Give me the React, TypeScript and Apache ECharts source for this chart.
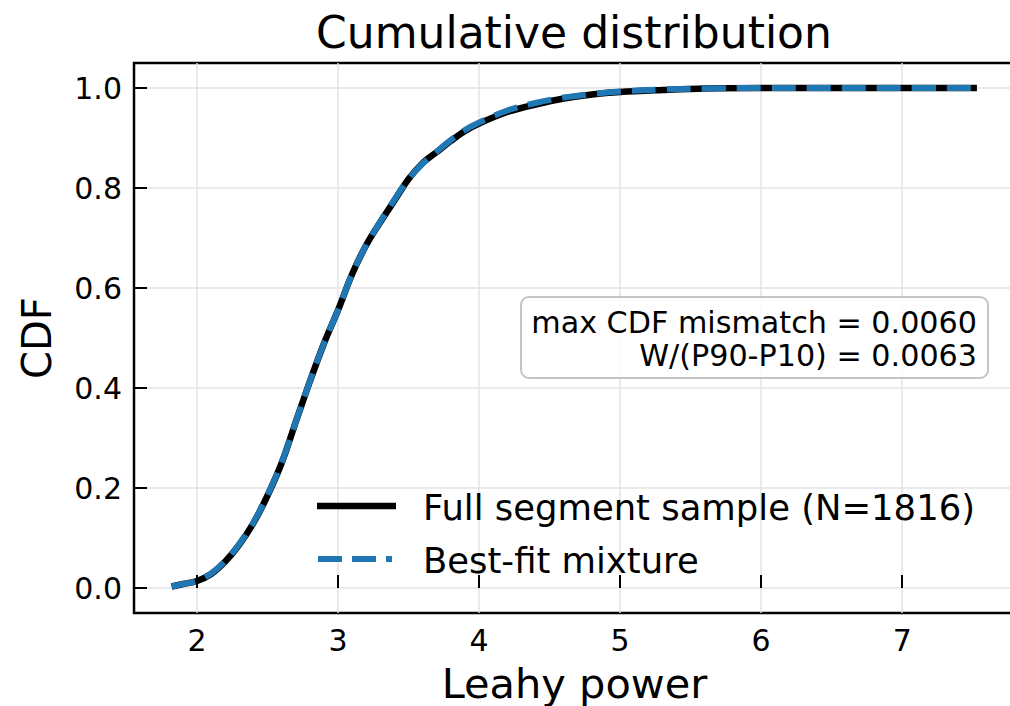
import React, { useEffect, useRef } from "react";
import * as echarts from "echarts";

const xValues = [1.82, 1.9, 2.0, 2.1, 2.2, 2.3, 2.4, 2.5, 2.6, 2.7, 2.8, 2.9, 3.0, 3.1, 3.2, 3.3, 3.4, 3.5, 3.6, 3.7, 3.8, 3.9, 4.0, 4.2, 4.4, 4.6, 4.8, 5.0, 5.3, 5.6, 6.0, 6.5, 7.0, 7.53];
const sampleCdf = [0.003, 0.008, 0.014, 0.028, 0.053, 0.087, 0.13, 0.185, 0.25, 0.332, 0.413, 0.489, 0.556, 0.628, 0.686, 0.732, 0.775, 0.818, 0.85, 0.872, 0.894, 0.914, 0.929, 0.952, 0.967, 0.979, 0.987, 0.992, 0.996, 0.999, 1.0, 1.0, 1.0, 1.0];
const fitCdf = [0.003, 0.008, 0.014, 0.029, 0.054, 0.088, 0.131, 0.186, 0.251, 0.332, 0.413, 0.489, 0.556, 0.628, 0.686, 0.733, 0.777, 0.818, 0.849, 0.873, 0.896, 0.916, 0.931, 0.955, 0.97, 0.981, 0.988, 0.993, 0.997, 0.999, 1.0, 1.0, 1.0, 1.0];
const xTicks = [2, 3, 4, 5, 6, 7];
const yTicks = [0, 0.2, 0.4, 0.6, 0.8, 1.0];
const seriesNames = ["Full segment sample (N=1816)", "Best-fit mixture"];
const statLines = ["max CDF mismatch = 0.0060", "W/(P90-P10) = 0.0063"];

const FONT = "DejaVu Sans";

export default function App() {
  const ref = useRef<HTMLDivElement>(null);
  useEffect(() => {
    if (!ref.current) return;
    const chart = echarts.init(ref.current, undefined, { renderer: "svg" });
    const sample = xValues.map((x, i) => [x, sampleCdf[i]]);
    const fit = xValues.map((x, i) => [x, fitCdf[i]]);
    chart.setOption({
      animation: false,
      backgroundColor: "#ffffff",
      grid: {
        left: 134,
        top: 63,
        right: -5,
        bottom: 93,
        show: true,
        borderColor: "#000",
        borderWidth: 2.5,
        backgroundColor: "transparent",
        containLabel: false,
        outerBoundsMode: "none",
      },
      xAxis: {
        type: "value",
        min: 1.553,
        max: 7.8,
        name: "Leahy power",
        nameLocation: "middle",
        nameGap: 49,
        nameMoveOverlap: false,
        nameTextStyle: { fontFamily: FONT, fontSize: 41.5, color: "#000" },
        axisLine: { show: false },
        axisTick: { show: true, inside: true, length: 13, lineStyle: { color: "#000", width: 2 }, customValues: xTicks },
        axisLabel: { show: true, customValues: xTicks, margin: 12, fontFamily: FONT, fontSize: 30, color: "#000", formatter: (v: number) => String(v) },
        splitLine: { show: true, lineStyle: { color: "#e3e3e3", width: 1.5 } },
      },
      yAxis: {
        type: "value",
        min: -0.05,
        max: 1.05,
        name: "CDF",
        nameLocation: "middle",
        nameGap: 77,
        nameMoveOverlap: false,
        nameTextStyle: { fontFamily: FONT, fontSize: 40, color: "#000" },
        axisLine: { show: false },
        axisTick: { show: true, inside: true, length: 13, lineStyle: { color: "#000", width: 2 }, customValues: yTicks },
        axisLabel: { show: true, customValues: yTicks, margin: 12, fontFamily: FONT, fontSize: 30, color: "#000", formatter: (v: number) => v.toFixed(1) },
        splitLine: { show: true, lineStyle: { color: "#e3e3e3", width: 1.5 } },
      },
      series: [
        {
          name: seriesNames[0],
          type: "line",
          data: sample,
          showSymbol: false,
          symbol: "none",
          smooth: 0.35,
          lineStyle: { color: "#000", width: 6.5 },
          z: 2,
        },
        {
          name: seriesNames[1],
          type: "line",
          data: fit,
          showSymbol: false,
          symbol: "none",
          smooth: 0.35,
          lineStyle: { color: "#1f77b4", width: 6, type: [24, 11] },
          z: 3,
        },
      ],
      graphic: [
        {
          type: "text",
          x: 574,
          y: 32,
          style: { text: "Cumulative distribution", fontFamily: FONT, fontSize: 44, fill: "#000", align: "center", verticalAlign: "middle" },
        },
        {
          type: "rect",
          shape: { x: 521, y: 297, width: 467, height: 81, r: 8 },
          style: { fill: "rgba(255,255,255,0.85)", stroke: "#c4c4c4", lineWidth: 2 },
          z: 10,
        },
        {
          type: "text",
          x: 977,
          y: 322,
          z: 11,
          style: { text: statLines[0], fontFamily: FONT, fontSize: 30.2, fill: "#000", align: "right", verticalAlign: "middle" },
        },
        {
          type: "text",
          x: 977,
          y: 355,
          z: 11,
          style: { text: statLines[1], fontFamily: FONT, fontSize: 30.2, fill: "#000", align: "right", verticalAlign: "middle" },
        },
        {
          type: "line",
          shape: { x1: 317, y1: 506, x2: 396, y2: 506 },
          style: { stroke: "#000", lineWidth: 6.5 },
          z: 10,
        },
        {
          type: "text",
          x: 423,
          y: 507,
          z: 10,
          style: { text: seriesNames[0], fontFamily: FONT, fontSize: 35.4, fill: "#000", align: "left", verticalAlign: "middle" },
        },
        {
          type: "line",
          shape: { x1: 318, y1: 559, x2: 392, y2: 559 },
          style: { stroke: "#1f77b4", lineWidth: 6, lineDash: [24, 10] },
          z: 10,
        },
        {
          type: "text",
          x: 423,
          y: 560,
          z: 10,
          style: { text: seriesNames[1], fontFamily: FONT, fontSize: 35.4, fill: "#000", align: "left", verticalAlign: "middle" },
        },
      ],
    });
    return () => chart.dispose();
  }, []);
  return (
    <div
      ref={ref}
      style={{ position: "fixed", left: 0, top: 0, width: 1010, height: 706, background: "#fff" }}
    />
  );
}
